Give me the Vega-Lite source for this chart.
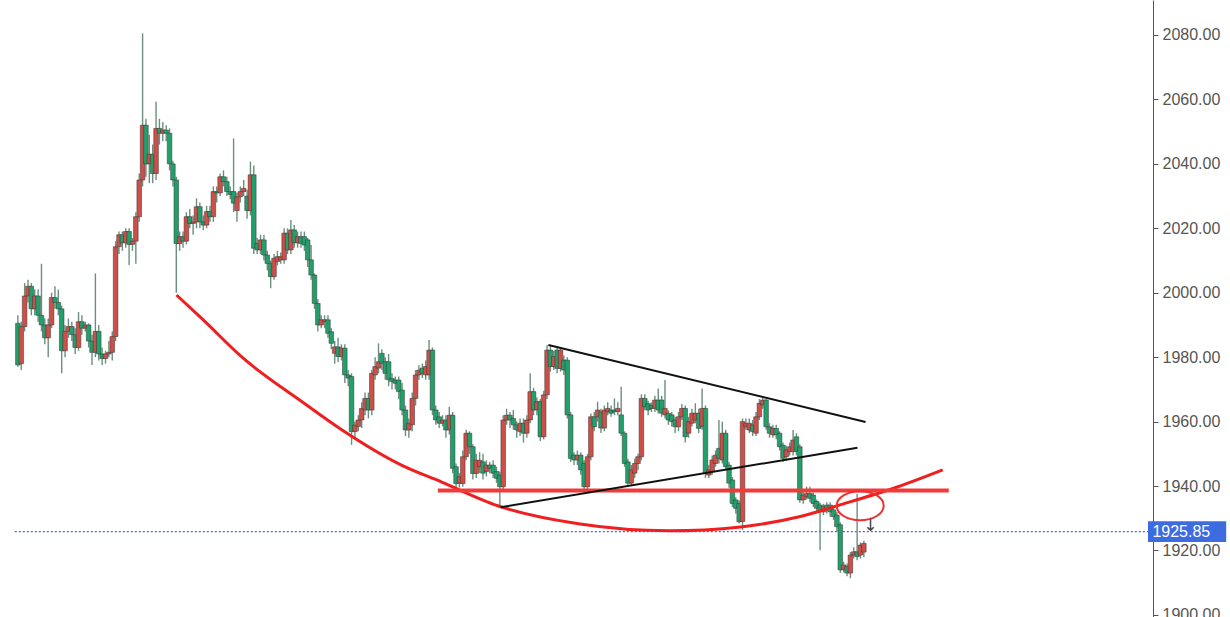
{
"$schema": "https://vega.github.io/schema/vega-lite/v6.json",
"width": 1153, "height": 617,
"autosize": {"type": "none"},
"padding": {"left": 0, "top": 0, "right": 77, "bottom": 0},
"background": "white",
"config": {"view": {"stroke": null}},
"resolve": {"axis": {"y": "independent", "x": "independent"}},
"datasets": {
"candles": [
{"t":0,"o":1990.5,"h":1993,"l":1977,"c":1977.6},
{"t":1,"o":1978,"h":1991,"l":1976,"c":1989.5},
{"t":2,"o":1989.5,"h":2003,"l":1988,"c":1999},
{"t":3,"o":1999,"h":2004,"l":1997,"c":2002},
{"t":4,"o":2002,"h":2003,"l":1993,"c":1995},
{"t":5,"o":1995,"h":2001,"l":1993,"c":1999},
{"t":6,"o":1999,"h":2001,"l":1991,"c":1993},
{"t":7,"o":1993,"h":2009,"l":1988,"c":1990},
{"t":8,"o":1990,"h":1992,"l":1984,"c":1986},
{"t":9,"o":1986,"h":1992,"l":1980,"c":1990},
{"t":10,"o":1990,"h":2000,"l":1989,"c":1998.5},
{"t":11,"o":1998.5,"h":2002,"l":1995,"c":1997},
{"t":12,"o":1997,"h":2001,"l":1993,"c":1995},
{"t":13,"o":1995,"h":1996,"l":1975,"c":1982},
{"t":14,"o":1982,"h":1990,"l":1980,"c":1988},
{"t":15,"o":1988,"h":1992,"l":1986,"c":1989.5},
{"t":16,"o":1989.5,"h":1991,"l":1985,"c":1987},
{"t":17,"o":1987,"h":1989,"l":1981,"c":1983},
{"t":18,"o":1983,"h":1994,"l":1982,"c":1991},
{"t":19,"o":1991,"h":1993,"l":1987,"c":1989},
{"t":20,"o":1989,"h":1991,"l":1988,"c":1990},
{"t":21,"o":1990,"h":1990.5,"l":1983,"c":1985},
{"t":22,"o":1985,"h":1987,"l":1977.6,"c":1981.5},
{"t":23,"o":1981.5,"h":2006,"l":1980,"c":1988},
{"t":24,"o":1988,"h":1990,"l":1979,"c":1981},
{"t":25,"o":1981,"h":1983,"l":1977.6,"c":1979.6},
{"t":26,"o":1979.6,"h":1982,"l":1978,"c":1981},
{"t":27,"o":1981,"h":1985,"l":1980,"c":1981.5},
{"t":28,"o":1981.5,"h":1988,"l":1979,"c":1986.4},
{"t":29,"o":1986.4,"h":2016,"l":1985,"c":2014.3},
{"t":30,"o":2014.3,"h":2019,"l":2012,"c":2018},
{"t":31,"o":2018,"h":2019,"l":2013,"c":2015.5},
{"t":32,"o":2015.5,"h":2020,"l":2014,"c":2019},
{"t":33,"o":2019,"h":2020,"l":2008.6,"c":2015},
{"t":34,"o":2015,"h":2017,"l":2013,"c":2016},
{"t":35,"o":2016,"h":2025,"l":2009,"c":2023.6},
{"t":36,"o":2023.6,"h":2037,"l":2022,"c":2035},
{"t":37,"o":2035,"h":2080.5,"l":2033,"c":2052},
{"t":38,"o":2052,"h":2054,"l":2036,"c":2040},
{"t":39,"o":2040,"h":2049,"l":2034,"c":2043},
{"t":40,"o":2043,"h":2046,"l":2034,"c":2037},
{"t":41,"o":2037,"h":2059.3,"l":2035,"c":2051},
{"t":42,"o":2051,"h":2054,"l":2046,"c":2049.5},
{"t":43,"o":2049.5,"h":2053,"l":2047,"c":2050.5},
{"t":44,"o":2050.5,"h":2052,"l":2047,"c":2049.5},
{"t":45,"o":2049.5,"h":2051,"l":2038,"c":2040},
{"t":46,"o":2040,"h":2041,"l":2033,"c":2035},
{"t":47,"o":2035,"h":2036,"l":2000,"c":2015.3},
{"t":48,"o":2015.3,"h":2019,"l":2013,"c":2017.4},
{"t":49,"o":2017.4,"h":2019,"l":2014,"c":2016},
{"t":50,"o":2016,"h":2025,"l":2015,"c":2023.6},
{"t":51,"o":2023.6,"h":2026,"l":2020,"c":2021.5},
{"t":52,"o":2021.5,"h":2024,"l":2018,"c":2022},
{"t":53,"o":2022,"h":2029.3,"l":2020,"c":2026.7},
{"t":54,"o":2026.7,"h":2028,"l":2020,"c":2022},
{"t":55,"o":2022,"h":2024,"l":2019.5,"c":2021},
{"t":56,"o":2021,"h":2027,"l":2020,"c":2025.2},
{"t":57,"o":2025.2,"h":2027,"l":2022,"c":2023.6},
{"t":58,"o":2023.6,"h":2033,"l":2022,"c":2031.4},
{"t":59,"o":2031.4,"h":2033,"l":2028,"c":2031},
{"t":60,"o":2031,"h":2037,"l":2030,"c":2036},
{"t":61,"o":2036,"h":2038,"l":2033,"c":2034.5},
{"t":62,"o":2034.5,"h":2036,"l":2030,"c":2031.4},
{"t":63,"o":2031.4,"h":2033,"l":2029,"c":2030.5},
{"t":64,"o":2031.4,"h":2047.9,"l":2025,"c":2027.8},
{"t":65,"o":2025.5,"h":2031,"l":2022,"c":2029.8},
{"t":66,"o":2029.8,"h":2033,"l":2028,"c":2031.4},
{"t":67,"o":2031.4,"h":2035,"l":2030,"c":2032.4},
{"t":68,"o":2030,"h":2032,"l":2023,"c":2025.5},
{"t":69,"o":2025.5,"h":2040.7,"l":2024,"c":2036.6},
{"t":70,"o":2036.6,"h":2039.5,"l":2012,"c":2013.8},
{"t":71,"o":2015.3,"h":2017,"l":2012,"c":2013.3},
{"t":72,"o":2013.3,"h":2018,"l":2012,"c":2016.4},
{"t":73,"o":2016.4,"h":2018,"l":2010,"c":2011.7},
{"t":74,"o":2011.7,"h":2013,"l":2007,"c":2009.1},
{"t":75,"o":2009.1,"h":2010,"l":2001.4,"c":2005},
{"t":76,"o":2005,"h":2012,"l":2004,"c":2010.7},
{"t":77,"o":2009.7,"h":2013,"l":2008.5,"c":2011.2},
{"t":78,"o":2010.2,"h":2012.5,"l":2009,"c":2011.2},
{"t":79,"o":2010.2,"h":2020,"l":2009,"c":2018.5},
{"t":80,"o":2018.5,"h":2020,"l":2012,"c":2013.3},
{"t":81,"o":2013.3,"h":2022.6,"l":2012,"c":2019.5},
{"t":82,"o":2019.5,"h":2021,"l":2014,"c":2015.5},
{"t":83,"o":2015.5,"h":2019,"l":2014,"c":2017.4},
{"t":84,"o":2017.4,"h":2019,"l":2014,"c":2015.3},
{"t":85,"o":2017.4,"h":2019,"l":2013,"c":2014.8},
{"t":86,"o":2016.4,"h":2017,"l":2008,"c":2010.2},
{"t":87,"o":2010.2,"h":2014.8,"l":2004,"c":2005.5},
{"t":88,"o":2005.5,"h":2006,"l":1995,"c":1996.7},
{"t":89,"o":1996.7,"h":1998,"l":1988,"c":1990},
{"t":90,"o":1990,"h":1993,"l":1989,"c":1991.6},
{"t":91,"o":1991,"h":1993,"l":1989,"c":1991.6},
{"t":92,"o":1991.6,"h":1993,"l":1986,"c":1987.4},
{"t":93,"o":1987.9,"h":1989,"l":1982.5,"c":1984.3},
{"t":94,"o":1981.2,"h":1985,"l":1978,"c":1983.2},
{"t":95,"o":1983.2,"h":1986,"l":1978.5,"c":1980.2},
{"t":96,"o":1980.2,"h":1984,"l":1979,"c":1982.8},
{"t":97,"o":1982.8,"h":1984,"l":1972,"c":1974.5},
{"t":98,"o":1974.5,"h":1976,"l":1971,"c":1973.5},
{"t":99,"o":1974,"h":1975,"l":1952.8,"c":1956.9},
{"t":100,"o":1956.9,"h":1960,"l":1955,"c":1958.9},
{"t":101,"o":1958.5,"h":1962,"l":1957,"c":1960.5},
{"t":102,"o":1960.5,"h":1966,"l":1958,"c":1964.1},
{"t":103,"o":1963.6,"h":1969,"l":1962,"c":1967.2},
{"t":104,"o":1967.2,"h":1969,"l":1961,"c":1963.6},
{"t":105,"o":1963.6,"h":1976,"l":1962,"c":1975},
{"t":106,"o":1974.5,"h":1980,"l":1973,"c":1977.1},
{"t":107,"o":1976.6,"h":1984.3,"l":1975,"c":1978.6},
{"t":108,"o":1981.2,"h":1982.5,"l":1976,"c":1978.1},
{"t":109,"o":1978.6,"h":1980,"l":1973,"c":1975},
{"t":110,"o":1978.6,"h":1981,"l":1971,"c":1973},
{"t":111,"o":1973.4,"h":1975,"l":1970,"c":1972.4},
{"t":112,"o":1972.9,"h":1974,"l":1970,"c":1971.9},
{"t":113,"o":1972.9,"h":1974,"l":1967,"c":1969.3},
{"t":114,"o":1969.8,"h":1972,"l":1962,"c":1963.6},
{"t":115,"o":1963.6,"h":1965,"l":1955.5,"c":1957.4},
{"t":116,"o":1957.4,"h":1961,"l":1955,"c":1959.5},
{"t":117,"o":1959,"h":1969,"l":1957,"c":1967.2},
{"t":118,"o":1967.2,"h":1976,"l":1965,"c":1974.5},
{"t":119,"o":1974.5,"h":1977.5,"l":1973,"c":1976},
{"t":120,"o":1976.6,"h":1978,"l":1973.5,"c":1975},
{"t":121,"o":1974.5,"h":1979,"l":1973,"c":1977.1},
{"t":122,"o":1974.5,"h":1985.3,"l":1973,"c":1982.2},
{"t":123,"o":1982.2,"h":1983,"l":1962,"c":1963.6},
{"t":124,"o":1963.6,"h":1965,"l":1959,"c":1960.5},
{"t":125,"o":1961.5,"h":1963,"l":1958,"c":1959.5},
{"t":126,"o":1959.5,"h":1962,"l":1958.5,"c":1960.5},
{"t":127,"o":1960.5,"h":1962,"l":1955,"c":1957.4},
{"t":128,"o":1957.4,"h":1964.6,"l":1956,"c":1962},
{"t":129,"o":1962,"h":1963,"l":1944,"c":1945.5},
{"t":130,"o":1946,"h":1947,"l":1939,"c":1940.8},
{"t":131,"o":1940.8,"h":1944,"l":1939.5,"c":1942.9},
{"t":132,"o":1940.8,"h":1951,"l":1939.8,"c":1949.1},
{"t":133,"o":1949.1,"h":1957.5,"l":1948,"c":1956.4},
{"t":134,"o":1956.4,"h":1957,"l":1950,"c":1952.2},
{"t":135,"o":1952.2,"h":1953,"l":1942,"c":1943.9},
{"t":136,"o":1943.9,"h":1950,"l":1942.5,"c":1948},
{"t":137,"o":1946,"h":1950.5,"l":1944,"c":1948},
{"t":138,"o":1947.5,"h":1950,"l":1942,"c":1944},
{"t":139,"o":1944.5,"h":1948,"l":1943,"c":1946.5},
{"t":140,"o":1946.5,"h":1947.5,"l":1944,"c":1945.5},
{"t":141,"o":1946.5,"h":1948,"l":1942.5,"c":1944},
{"t":142,"o":1944.5,"h":1946,"l":1941,"c":1942.4},
{"t":143,"o":1943.4,"h":1944.5,"l":1933.6,"c":1939.8},
{"t":144,"o":1939.8,"h":1962,"l":1938.5,"c":1960.5},
{"t":145,"o":1960.5,"h":1964,"l":1959,"c":1962},
{"t":146,"o":1962,"h":1963,"l":1958,"c":1960.5},
{"t":147,"o":1961,"h":1963.6,"l":1957.5,"c":1959},
{"t":148,"o":1959,"h":1960,"l":1955,"c":1957.4},
{"t":149,"o":1956.9,"h":1961,"l":1955.5,"c":1959.5},
{"t":150,"o":1959.5,"h":1961,"l":1953.5,"c":1956.4},
{"t":151,"o":1956.4,"h":1962,"l":1955,"c":1960.5},
{"t":152,"o":1960.5,"h":1975,"l":1959.5,"c":1969.3},
{"t":153,"o":1969.3,"h":1970.5,"l":1962,"c":1963.6},
{"t":154,"o":1963.6,"h":1967.5,"l":1962,"c":1966.2},
{"t":155,"o":1966.2,"h":1967,"l":1954,"c":1955.3},
{"t":156,"o":1955.3,"h":1969.5,"l":1954.5,"c":1968.3},
{"t":157,"o":1968.3,"h":1983.8,"l":1967,"c":1982.2},
{"t":158,"o":1982.2,"h":1983.5,"l":1975.5,"c":1977.1},
{"t":159,"o":1977.1,"h":1982,"l":1976,"c":1980.2},
{"t":160,"o":1982.2,"h":1983.5,"l":1975,"c":1976.5},
{"t":161,"o":1976.5,"h":1983,"l":1975.5,"c":1982.2},
{"t":162,"o":1979.1,"h":1980.5,"l":1974.5,"c":1976},
{"t":163,"o":1979.1,"h":1980,"l":1961,"c":1962.1},
{"t":164,"o":1962.1,"h":1963,"l":1947.5,"c":1948.6},
{"t":165,"o":1949.6,"h":1950.5,"l":1946.5,"c":1948.1},
{"t":166,"o":1948.1,"h":1951,"l":1946.5,"c":1949.6},
{"t":167,"o":1949.6,"h":1950.5,"l":1943.5,"c":1945},
{"t":168,"o":1947,"h":1948,"l":1938.5,"c":1939.8},
{"t":169,"o":1939.8,"h":1950,"l":1938.8,"c":1949.1},
{"t":170,"o":1949.1,"h":1962.5,"l":1948,"c":1961.5},
{"t":171,"o":1961.5,"h":1963,"l":1957,"c":1958.4},
{"t":172,"o":1961.5,"h":1966.2,"l":1960,"c":1963.6},
{"t":173,"o":1963,"h":1964,"l":1956.5,"c":1958},
{"t":174,"o":1958,"h":1965,"l":1957,"c":1963.6},
{"t":175,"o":1963.1,"h":1966,"l":1962,"c":1964.1},
{"t":176,"o":1963.6,"h":1965,"l":1961.5,"c":1962.6},
{"t":177,"o":1963.6,"h":1967.2,"l":1962,"c":1963.1},
{"t":178,"o":1963.1,"h":1966,"l":1962,"c":1964.1},
{"t":179,"o":1962.1,"h":1970.8,"l":1955.5,"c":1956.4},
{"t":180,"o":1956.4,"h":1957,"l":1946,"c":1947},
{"t":181,"o":1947.5,"h":1948.5,"l":1940.3,"c":1940.9},
{"t":182,"o":1940.9,"h":1946.5,"l":1940,"c":1945},
{"t":183,"o":1944,"h":1948.5,"l":1942.5,"c":1947},
{"t":184,"o":1947,"h":1950,"l":1945,"c":1949.1},
{"t":185,"o":1949.1,"h":1968.5,"l":1948,"c":1967.2},
{"t":186,"o":1967.2,"h":1968.5,"l":1963.5,"c":1964.6},
{"t":187,"o":1965.6,"h":1966.5,"l":1962,"c":1963.6},
{"t":188,"o":1965,"h":1966,"l":1963,"c":1964.1},
{"t":189,"o":1964.1,"h":1968,"l":1963,"c":1966.7},
{"t":190,"o":1966.7,"h":1970.3,"l":1962.5,"c":1963.6},
{"t":191,"o":1966.7,"h":1968,"l":1961.5,"c":1962.6},
{"t":192,"o":1962.1,"h":1972.9,"l":1961,"c":1964.1},
{"t":193,"o":1962.6,"h":1963.5,"l":1959,"c":1960.5},
{"t":194,"o":1962.1,"h":1963,"l":1958.5,"c":1960},
{"t":195,"o":1960.5,"h":1961.5,"l":1956.5,"c":1958.4},
{"t":196,"o":1958.4,"h":1963,"l":1957,"c":1961.5},
{"t":197,"o":1961.5,"h":1965.5,"l":1960.5,"c":1964.1},
{"t":198,"o":1964.1,"h":1965,"l":1953.5,"c":1955.3},
{"t":199,"o":1956.4,"h":1961.5,"l":1955,"c":1960},
{"t":200,"o":1959.5,"h":1964,"l":1958.5,"c":1962.6},
{"t":201,"o":1960.5,"h":1965.7,"l":1959.5,"c":1962.6},
{"t":202,"o":1962.6,"h":1964,"l":1956.5,"c":1957.9},
{"t":203,"o":1958.5,"h":1970.3,"l":1957.5,"c":1964.1},
{"t":204,"o":1964.1,"h":1965,"l":1942.5,"c":1943.9},
{"t":205,"o":1943.4,"h":1946.5,"l":1942.5,"c":1945},
{"t":206,"o":1944.5,"h":1949.5,"l":1943.5,"c":1948.1},
{"t":207,"o":1947,"h":1951,"l":1946,"c":1949.6},
{"t":208,"o":1951.7,"h":1960.5,"l":1947,"c":1948.6},
{"t":209,"o":1948.1,"h":1960,"l":1947,"c":1956.4},
{"t":210,"o":1956.4,"h":1957.5,"l":1945,"c":1946},
{"t":211,"o":1946.5,"h":1947.5,"l":1939.5,"c":1940.9},
{"t":212,"o":1941.9,"h":1942.8,"l":1933.5,"c":1934.6},
{"t":213,"o":1935.7,"h":1936.5,"l":1931.5,"c":1933.1},
{"t":214,"o":1934.6,"h":1935.5,"l":1928.4,"c":1928.9},
{"t":215,"o":1929,"h":1961,"l":1926.4,"c":1960},
{"t":216,"o":1958.4,"h":1961,"l":1957.5,"c":1959.5},
{"t":217,"o":1957.4,"h":1961,"l":1956.5,"c":1959.5},
{"t":218,"o":1959,"h":1960.5,"l":1955.5,"c":1956.9},
{"t":219,"o":1956.4,"h":1963,"l":1955.5,"c":1961.5},
{"t":220,"o":1961.5,"h":1967,"l":1960.5,"c":1965.7},
{"t":221,"o":1965.2,"h":1967.5,"l":1964,"c":1966.7},
{"t":222,"o":1966.7,"h":1967.2,"l":1957.5,"c":1958.4},
{"t":223,"o":1958.4,"h":1959.5,"l":1955,"c":1956.4},
{"t":224,"o":1955.9,"h":1959,"l":1955,"c":1957.9},
{"t":225,"o":1957.9,"h":1959,"l":1954.5,"c":1955.9},
{"t":226,"o":1956.4,"h":1957,"l":1951,"c":1952.2},
{"t":227,"o":1952.7,"h":1953.5,"l":1947.5,"c":1948.6},
{"t":228,"o":1949.1,"h":1952.5,"l":1947.8,"c":1951.2},
{"t":229,"o":1950.7,"h":1953.5,"l":1949.5,"c":1952.2},
{"t":230,"o":1950.7,"h":1957.4,"l":1949.5,"c":1954.3},
{"t":231,"o":1955.3,"h":1956.4,"l":1949.5,"c":1950.7},
{"t":232,"o":1952.2,"h":1953,"l":1934.8,"c":1935.7},
{"t":233,"o":1935.7,"h":1938.5,"l":1934.5,"c":1937.2},
{"t":234,"o":1936.7,"h":1939.8,"l":1935.8,"c":1937.7},
{"t":235,"o":1937.7,"h":1939.8,"l":1935,"c":1936.2},
{"t":236,"o":1937.2,"h":1938,"l":1933.5,"c":1934.6},
{"t":237,"o":1935.2,"h":1935.8,"l":1932.2,"c":1933.1},
{"t":238,"o":1934.1,"h":1934.8,"l":1920.1,"c":1932},
{"t":239,"o":1932,"h":1934.5,"l":1931,"c":1933.6},
{"t":240,"o":1934.1,"h":1935,"l":1931.5,"c":1932.6},
{"t":241,"o":1934.1,"h":1935,"l":1930.5,"c":1932},
{"t":242,"o":1932.6,"h":1933.5,"l":1929.5,"c":1930.5},
{"t":243,"o":1931,"h":1932,"l":1925.8,"c":1927.4},
{"t":244,"o":1928,"h":1928.8,"l":1913,"c":1914},
{"t":245,"o":1914,"h":1916.5,"l":1913.2,"c":1915.5},
{"t":246,"o":1915,"h":1916,"l":1912,"c":1913},
{"t":247,"o":1913,"h":1919.5,"l":1911.4,"c":1918.6},
{"t":248,"o":1918.6,"h":1921,"l":1917.5,"c":1919.6},
{"t":249,"o":1919.6,"h":1937.5,"l":1917,"c":1918.1},
{"t":250,"o":1918.6,"h":1922.5,"l":1917.5,"c":1921.7},
{"t":251,"o":1919.5,"h":1923,"l":1918,"c":1922.2}
],
"curve": [
{"t":47.06,"p":1999.3},{"t":55.0,"p":1991.55},{"t":66.76,"p":1979.75},{"t":84.41,"p":1966.1},
{"t":96.18,"p":1957.4},{"t":113.8,"p":1946.5},{"t":125.6,"p":1941.3},{"t":142.6,"p":1933.8},
{"t":166.8,"p":1928.2},{"t":193.2,"p":1926.1},{"t":214.4,"p":1927.3},{"t":231.5,"p":1930.4},
{"t":244.7,"p":1934.4},{"t":260.9,"p":1939.7},{"t":274.4,"p":1945.0}
],
"hline": [{"t":124.6,"t2":276.2,"p":1938.6}],
"tlines": [
{"t":157.4,"p":1983.8,"t2":251.5,"p2":1959.9},
{"t":143.2,"p":1933.4,"t2":249.1,"p2":1951.9}
],
"ellipse": [{"t":249.9,"p":1933.9}],
"arrow": [{"t":252.9,"p":1927.6,"label":"↓"}],
"last": [{"t":-0.9,"t2":335.3,"p":1925.85}],
"lastbox": [{"t":335.3,"t2":358.5,"p":1929.1,"p2":1922.6}],
"lastlabel": [{"t":336.6,"p":1925.85,"label":"1925.85"}]
},
"layer": [
{
"data": {"name": "last"},
"mark": {"type": "rule", "stroke": "#3f63f2", "color": "#3f63f2", "strokeWidth": 1.2, "strokeDash": [2, 2], "opacity": 1},
"encoding": {
"x": {"field": "t", "type": "quantitative", "scale": {"domain": [-3.82, 335.3], "nice": false, "zero": false}, "axis": null},
"x2": {"field": "t2"},
"y": {"field": "p", "type": "quantitative", "scale": {"domain": [1899.36, 2090.86], "nice": false, "zero": false},
"axis": {"orient": "right", "title": null, "values": [1900,1920,1940,1960,1980,2000,2020,2040,2060,2080], "format": ".2f", "grid": false,
"domain": true, "ticks": true, "labels": true,
"domainColor": "#555555", "domainWidth": 1, "tickColor": "#555555", "tickSize": 5, "labelPadding": 4,
"labelFont": "Liberation Sans", "labelFontSize": 16, "labelColor": "#555555"}}
}
},
{
"data": {"name": "candles"},
"mark": {"type": "rule", "color": "#6b8e7e", "strokeWidth": 1.4},
"encoding": {
"x": {"field": "t", "type": "quantitative", "axis": null},
"y": {"field": "l", "type": "quantitative", "axis": null},
"y2": {"field": "h"}
}
},
{
"data": {"name": "candles"},
"mark": {"type": "bar", "size": 4.6, "stroke": "#333333", "strokeWidth": 0.5},
"encoding": {
"x": {"field": "t", "type": "quantitative", "axis": null},
"y": {"field": "o", "type": "quantitative", "axis": null},
"y2": {"field": "c"},
"color": {"condition": {"test": "datum.c >= datum.o", "value": "#cd4f47"}, "value": "#22a06b"}
}
},
{
"data": {"name": "curve"},
"mark": {"type": "line", "color": "#f01e1e", "strokeWidth": 3, "interpolate": "monotone"},
"encoding": {
"x": {"field": "t", "type": "quantitative", "axis": null},
"y": {"field": "p", "type": "quantitative", "axis": null}
}
},
{
"data": {"name": "hline"},
"mark": {"type": "rule", "color": "#f23a3a", "strokeWidth": 4},
"encoding": {
"x": {"field": "t", "type": "quantitative", "axis": null},
"x2": {"field": "t2"},
"y": {"field": "p", "type": "quantitative", "axis": null}
}
},
{
"data": {"name": "tlines"},
"mark": {"type": "rule", "color": "#111111", "strokeWidth": 2},
"encoding": {
"x": {"field": "t", "type": "quantitative", "axis": null},
"x2": {"field": "t2"},
"y": {"field": "p", "type": "quantitative", "axis": null},
"y2": {"field": "p2"}
}
},
{
"data": {"name": "ellipse"},
"mark": {"type": "point", "shape": "M -1 0 A 1 0.62 0 1 0 1 0 A 1 0.62 0 1 0 -1 0 Z", "size": 2210, "filled": false, "stroke": "#ee3030", "strokeWidth": 2, "opacity": 1},
"encoding": {
"x": {"field": "t", "type": "quantitative", "axis": null},
"y": {"field": "p", "type": "quantitative", "axis": null}
}
},
{
"data": {"name": "arrow"},
"mark": {"type": "text", "fontSize": 17, "color": "#444444", "font": "DejaVu Sans", "baseline": "middle", "align": "center"},
"encoding": {
"x": {"field": "t", "type": "quantitative", "axis": null},
"y": {"field": "p", "type": "quantitative", "axis": null},
"text": {"field": "label"}
}
},
{
"data": {"name": "lastbox"},
"mark": {"type": "rect", "color": "#3d6be0"},
"encoding": {
"x": {"field": "t", "type": "quantitative", "axis": null},
"x2": {"field": "t2"},
"y": {"field": "p", "type": "quantitative", "axis": null},
"y2": {"field": "p2"}
}
},
{
"data": {"name": "lastlabel"},
"mark": {"type": "text", "fontSize": 16, "color": "#ffffff", "font": "Liberation Sans", "baseline": "middle", "align": "left"},
"encoding": {
"x": {"field": "t", "type": "quantitative", "axis": null},
"y": {"field": "p", "type": "quantitative", "axis": null},
"text": {"field": "label"}
}
}
]
}
